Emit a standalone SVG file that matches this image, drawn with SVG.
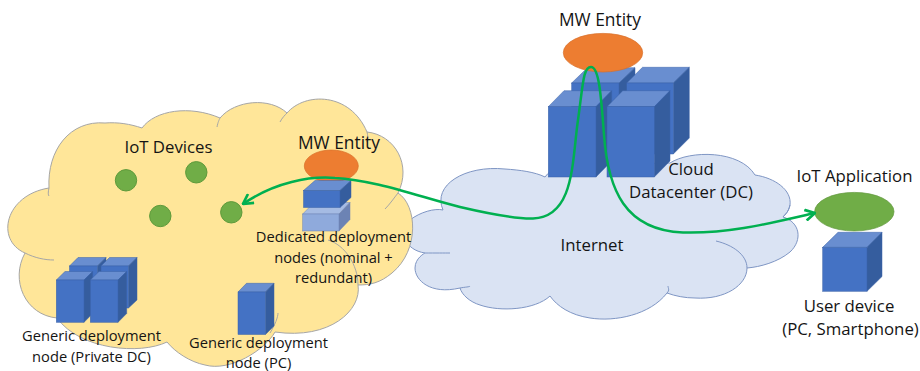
<svg xmlns="http://www.w3.org/2000/svg" width="920" height="371" viewBox="0 0 920 371">
<style>
text{font-family:"Open Sans","Noto Sans",sans-serif;font-size:16.800px;fill:#141414;text-anchor:middle}
.s{font-size:14.700px}
.l{font-size:17.400px}
.yc{fill:#ffe699;stroke:#a6a6a6;stroke-width:1}
.bc{fill:#dae3f3;stroke:#7f96c4;stroke-width:1}
.yi{fill:none;stroke:#a6a6a6;stroke-width:1}
.bi{fill:none;stroke:#7f96c4;stroke-width:1}
.f{fill:#4472c4}.t{fill:#698ed0}.d{fill:#355d9e}
.f2{fill:#8faadc}.t2{fill:#a5bbe3}.d2{fill:#6c83b4}
.f,.t,.d{stroke:#3a62a8;stroke-width:.5}
.f2,.t2,.d2{stroke:#6c83b4;stroke-width:.5}
.dev{fill:#70ad47;stroke:#5f9a3b;stroke-width:1}
.mw{fill:#ed7d31;stroke:#d96f28;stroke-width:.7}
.app{fill:#70ad47;stroke:#62983e;stroke-width:.7}
.c{fill:none;stroke:#00b050;stroke-width:2.500}
</style>
<defs>
<marker id="a" viewBox="0 0 12 12" refX="11" refY="6" markerWidth="13" markerHeight="13" markerUnits="userSpaceOnUse" orient="auto-start-reverse">
<path d="M2,1 L11,6 L2,11" fill="none" stroke="#00b050" stroke-width="2.500"/>
</marker>
</defs>

<g id="internet-cloud">
<path class="bc" d="M443,210 C432,185 465,165 505,169 C520,170 535,172 545,177 C552,168 560,163 570,165 L670,163 C690,150 740,150 755,175 C775,178 792,190 790,205 C789,211 785,215 783,217 C800,222 803,240 790,252 C778,262 760,267 747,268 C747,285 725,300 695,298 C685,298 675,296 667,293 C650,315 615,322 590,318 C570,315 557,306 550,296 C535,310 500,312 480,305 C470,302 462,295 460,288 C430,295 415,280 415,268 C415,258 425,253 425,253 C405,250 398,232 410,220 C420,212 435,208 443,210 Z"/>
<path class="bi" d="M425,253 C435,253 445,253 450,253 M460,288 C465,287 470,287 470,286 M667,293 C670,290 668,288 668,286 M747,268 C747,255 733,245 716,241 M783,217 C786,213 788,213 790,205"/>
<text x="592" y="251">Internet</text>
<text x="691" y="175">Cloud</text>
<text x="691" y="198">Datacenter (DC)</text>
</g>

<g id="lan-cloud">
<path class="yc" d="M49,188 C47,150 70,120 105,123 C118,122 130,124 142,128 C155,110 190,105 220,118 C235,100 270,97 287,113 C305,92 350,92 367,132 C395,135 412,165 398,193 C417,205 420,250 392,273 C380,283 370,285 358,285 C362,310 330,340 275,332 C265,350 230,372 205,365 C190,362 175,352 167,342 C140,355 80,350 57,318 C25,315 10,280 25,253 C-5,240 5,195 49,188 Z"/>
<path class="yi" d="M217,127 C218,122 219,120 220,118 M280,122 C282,118 285,115 287,113 M367,132 C368,136 368,138 367,142 M398,193 C394,198 390,204 385,209 M328,240 C345,245 358,265 358,285 M270,333 C275,325 278,317 278,313 M25,253 C35,258 45,260 54,260 M49,188 C48,192 48,195 49,196"/>
</g>

<g id="generic-private">
<polygon class="t" points="69.500,266 78,257.500 106,257.500 97.500,266"/><polygon class="d" points="97.500,266 106,257.500 106,299 97.500,308"/><rect class="f" x="69.500" y="266" width="28" height="42"/>
<polygon class="t" points="101,266 109.500,257.500 137,257.500 128.500,266"/><polygon class="d" points="128.500,266 137,257.500 137,300 128.500,308"/><rect class="f" x="101" y="266" width="27.500" height="42"/>
<polygon class="t" points="56.300,280 65,271.500 92.700,271.500 84,280"/><polygon class="d" points="84,280 92.700,271.500 92.700,313.500 84,322.300"/><rect class="f" x="56.300" y="280" width="27.700" height="42.300"/>
<polygon class="t" points="90.300,280 99,271.500 126.700,271.500 118,280"/><polygon class="d" points="118,280 126.700,271.500 126.700,313.500 118,322.300"/><rect class="f" x="90.300" y="280" width="27.700" height="42.300"/>
<text x="91.500" y="341" class="s">Generic deployment</text>
<text x="91.500" y="362" class="s">node (Private DC)</text>
</g>

<g id="generic-pc">
<polygon class="t" points="238,292 246.500,283.300 274,283.300 265.500,292"/><polygon class="d" points="265.500,292 274,283.300 274,326 265.500,334.500"/><rect class="f" x="238" y="292" width="27.500" height="42.500"/>
<text x="258.500" y="348" class="s">Generic deployment</text>
<text x="258.500" y="368" class="s">node (PC)</text>
</g>

<g id="iot-devices">
<text x="168.500" y="153">IoT Devices</text>
<circle class="dev" cx="126" cy="180.300" r="10.700"/>
<circle class="dev" cx="196.300" cy="172.300" r="10.700"/>
<circle class="dev" cx="160.300" cy="216" r="10.700"/>
<circle class="dev" cx="231.300" cy="212.300" r="10.700"/>
</g>

<g id="mw-dedicated">
<text x="339" y="149" class="l">MW Entity</text>
<ellipse class="mw" cx="331.300" cy="166" rx="27" ry="16"/>
<polygon class="t2" points="302.700,214 314,202.500 350,202.500 339,214"/><polygon class="d2" points="339,214 350,202.500 350,219.500 339,231"/><rect class="f2" x="302.700" y="214" width="36.300" height="17"/>
<polygon class="t" points="303.500,190.500 315,180.500 351,180.500 340,190.500"/><polygon class="d" points="340,190.500 351,180.500 351,197.500 340,207.500"/><rect class="f" x="303.500" y="190.500" width="36.500" height="17"/>
<text x="333.500" y="242" class="s">Dedicated deployment</text>
<text x="333.500" y="263" class="s">nodes (nominal +</text>
<text x="333.500" y="283" class="s">redundant)</text>
</g>

<g id="cloud-dc">
<polygon class="t" points="571.700,83 587.500,67.700 635,67.700 619,83"/><polygon class="d" points="619,83 635,67.700 635,140 619,154"/><rect class="f" x="571.700" y="83" width="47.300" height="71"/>
<polygon class="t" points="626.700,83 642.500,67.300 689.300,67.300 673.300,83"/><polygon class="d" points="673.300,83 689.300,67.300 689.300,138 673.300,154"/><rect class="f" x="626.700" y="83" width="46.600" height="71"/>
<polygon class="t" points="548.300,106.700 564,90.700 611.700,90.700 596,106.700"/><polygon class="d" points="596,106.700 611.700,90.700 611.700,161 596,177"/><rect class="f" x="548.300" y="106.700" width="47.700" height="70.300"/>
<polygon class="t" points="607,106.700 622.700,90.700 670,90.700 654.300,106.700"/><polygon class="d" points="654.300,106.700 670,90.700 670,161 654.300,177"/><rect class="f" x="607" y="106.700" width="47.300" height="70.300"/>
<ellipse class="mw" cx="603" cy="52.700" rx="39.700" ry="19.300"/>
<text x="600" y="26" class="l">MW Entity</text>
</g>

<g id="user-device">
<polygon class="t" points="822.700,247.300 838,232.300 882,232.300 867,247.300"/><polygon class="d" points="867,247.300 882,232.300 882,276.500 867,291.300"/><rect class="f" x="822.700" y="247.300" width="44.300" height="44"/>
<ellipse class="app" cx="854.300" cy="211.700" rx="39.700" ry="19.300"/>
<text x="854.500" y="182">IoT Application</text>
<text x="849" y="312">User device</text>
<text x="850.500" y="335">(PC, Smartphone)</text>
</g>

<g id="connectors">
<path class="c" marker-start="url(#a)" marker-end="url(#a)" d="M243,204 C275,182 310,176 335,178 C375,180 420,197 460,207 C490,214 515,219 533,218.500 C575,217 572,160 578,120 C583,85 583,67 591,67 C599,67 601,95 604,135 C608,190 625,230 683,232.500 C730,234 775,222 815,213"/>
</g>
</svg>
